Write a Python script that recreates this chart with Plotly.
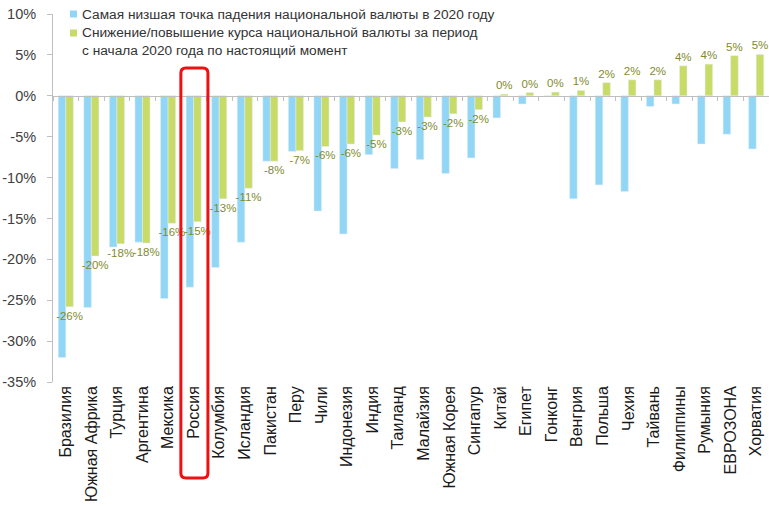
import plotly.graph_objects as go

categories = ["Бразилия", "Южная Африка", "Турция", "Аргентина", "Мексика", "Россия",
              "Колумбия", "Исландия", "Пакистан", "Перу", "Чили", "Индонезия", "Индия",
              "Таиланд", "Малайзия", "Южная Корея", "Сингапур", "Китай", "Египет",
              "Гонконг", "Венгрия", "Польша", "Чехия", "Тайвань", "Филиппины",
              "Румыния", "ЕВРОЗОНА", "Хорватия"]

low_2020 = [-32.0, -25.9, -18.5, -17.9, -24.8, -23.4, -21.0, -17.9, -8.0, -6.8, -14.1,
            -16.9, -7.2, -8.9, -7.8, -9.5, -7.6, -2.7, -1.0, -0.1, -12.6, -10.9, -11.7,
            -1.3, -1.0, -5.9, -4.7, -6.5]

ytd_change = [-25.8, -19.6, -18.1, -18.0, -15.6, -15.4, -12.6, -11.3, -8.0, -6.7, -6.2,
              -5.9, -4.8, -3.2, -2.6, -2.2, -1.7, 0.2, 0.4, 0.45, 0.65, 1.6, 1.95, 1.95,
              3.66, 3.87, 4.9, 5.05]

series_names = ["Самая низшая точка падения национальной валюты в 2020 году",
                "Снижение/повышение курса национальной валюты за период<br>с начала 2020 года по настоящий момент"]

y_ticks = [10, 5, 0, -5, -10, -15, -20, -25, -30, -35]
y_tick_labels = [f"{v}%" for v in y_ticks]
highlight = "Россия"

BLUE = "#92d6f6"
GREEN = "#c8db66"
LABEL = "#7f8b2c"
AXIS = "#bfbfbf"

W, H = 769, 506
ML, MR, MT, MB = 53, 0, 14, 124
PW, PH = W - ML - MR, H - MT - MB
ymin, ymax = min(y_ticks), max(y_ticks)
n = len(categories)


def px_x(x):
    return (x - ML) / PW


def px_y(y):
    return (H - MB - y) / PH


fig = go.Figure()
fig.add_trace(go.Bar(x=categories, y=low_2020, name=series_names[0],
                     marker_color=BLUE, showlegend=False, hoverinfo="x+y"))
fig.add_trace(go.Bar(x=categories, y=ytd_change, name=series_names[1],
                     marker_color=GREEN, showlegend=False,
                     texttemplate="%{y:.0f}%", textposition="outside",
                     textfont=dict(size=11.5, color=LABEL, family="Liberation Sans, Arial"),
                     constraintext="none", cliponaxis=False, hoverinfo="x+y"))
# helper trace for the zero-line axis with boundary ticks
fig.add_trace(go.Scatter(x=categories, y=[0] * n, xaxis="x2",
                         mode="markers", marker=dict(opacity=0), showlegend=False,
                         hoverinfo="skip"))

fig.update_layout(
    width=W, height=H,
    margin=dict(l=ML, r=MR, t=MT, b=MB),
    paper_bgcolor="white", plot_bgcolor="white",
    barmode="group", bargap=0.41, bargroupgap=0,
    font=dict(family="Liberation Sans, Arial", color="#333333"),
    xaxis=dict(categoryorder="array", categoryarray=categories,
               range=[-0.5, n - 0.5], autorange=False,
               tickangle=-90, showline=False, ticks="", showgrid=False,
               tickfont=dict(size=16, color="#1a1a1a")),
    xaxis2=dict(overlaying="x", anchor="free", matches="x",
                categoryorder="array", categoryarray=categories,
                range=[-0.5, n - 0.5], autorange=False,
                position=(0 - ymin) / (ymax - ymin),
                showline=True, linecolor=AXIS, linewidth=1,
                ticks="outside", tickson="boundaries", ticklen=4, tickcolor=AXIS,
                showticklabels=False, showgrid=False, side="bottom"),
    yaxis=dict(range=[ymin, ymax], tickvals=y_ticks, ticktext=y_tick_labels,
               showgrid=False, zeroline=False, showline=True, linecolor=AXIS,
               ticks="outside", ticklen=5, tickcolor=AXIS, ticklabelstandoff=8,
               tickfont=dict(size=14.5, color="#404040")),
)

# legend drawn as shapes + text
sq = 7
for col, ycen in [(BLUE, 14), (GREEN, 33)]:
    fig.add_shape(type="rect", xref="paper", yref="paper",
                  x0=px_x(70), x1=px_x(70 + sq), y0=px_y(ycen + sq / 2), y1=px_y(ycen - sq / 2),
                  fillcolor=col, line_width=0)
fig.add_annotation(text=series_names[0], xref="paper", yref="paper",
                   x=px_x(80), y=px_y(14), xanchor="left", yanchor="middle",
                   showarrow=False, font=dict(size=13.7, color="#333333"), align="left")
fig.add_annotation(text=series_names[1], xref="paper", yref="paper",
                   x=px_x(80), y=px_y(23), xanchor="left", yanchor="top",
                   showarrow=False, font=dict(size=13.7, color="#333333"), align="left")

# rounded red highlight box around Russia
idx = categories.index(highlight)
x0, x1 = idx / n, (idx + 1) / n + 1.5 / PW
y0, y1 = px_y(478), px_y(68)
rx, ry = 5 / PW, 5 / PH
path = (f"M{x0 + rx},{y1} L{x1 - rx},{y1} Q{x1},{y1} {x1},{y1 - ry} "
        f"L{x1},{y0 + ry} Q{x1},{y0} {x1 - rx},{y0} L{x0 + rx},{y0} "
        f"Q{x0},{y0} {x0},{y0 + ry} L{x0},{y1 - ry} Q{x0},{y1} {x0 + rx},{y1} Z")
fig.add_shape(type="path", xref="paper", yref="paper", path=path,
              line=dict(color="#ee1111", width=3), fillcolor="rgba(0,0,0,0)")

fig.write_html("out.html")
